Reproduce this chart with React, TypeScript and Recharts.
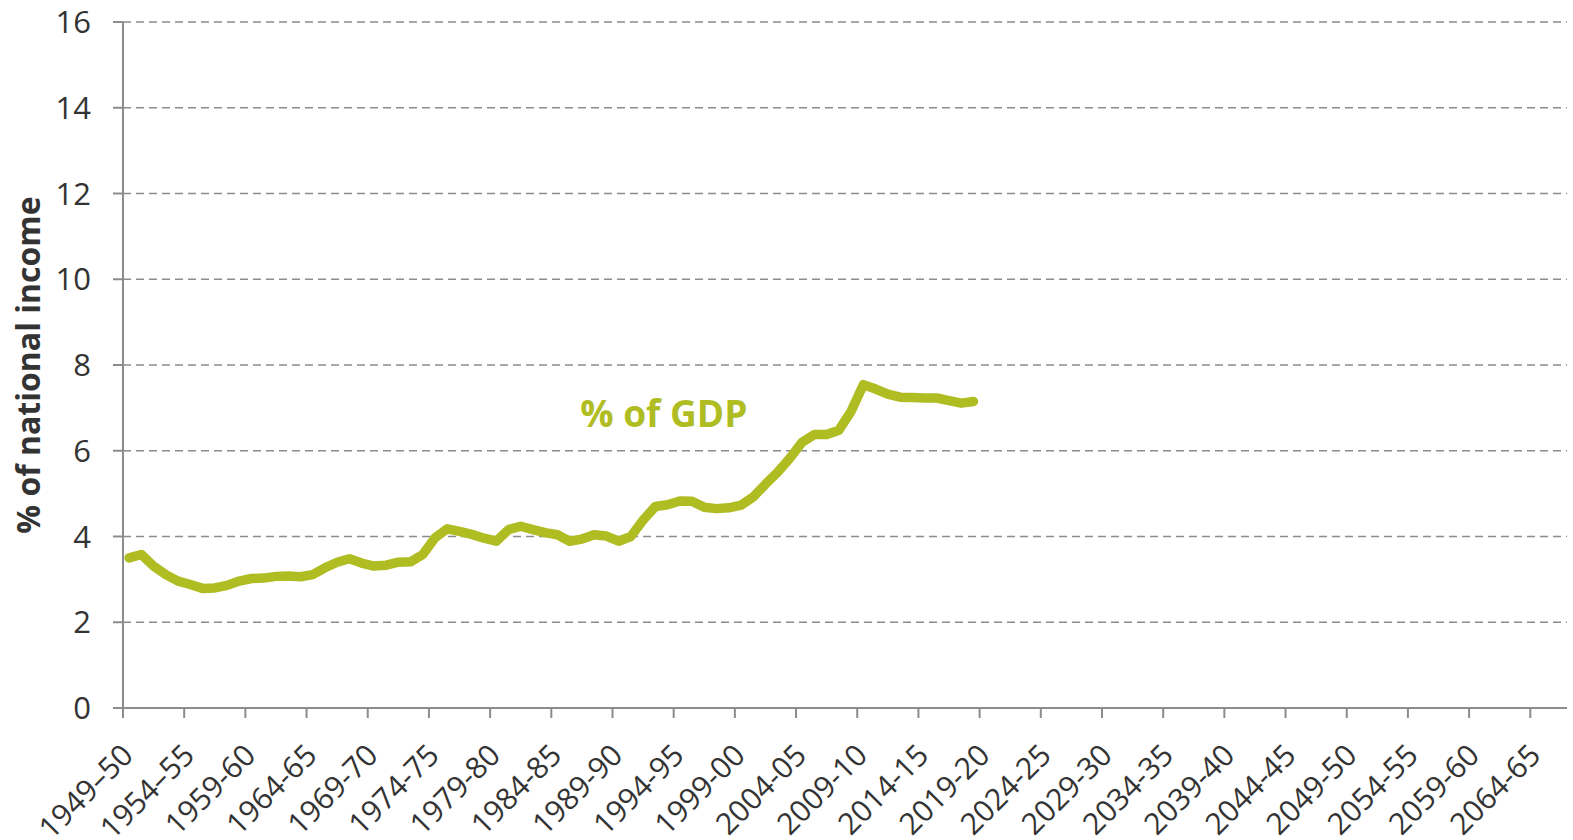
import { CartesianGrid, Line, LineChart, ReferenceDot, XAxis, YAxis } from "recharts";

// financial years 1949–50 .. 2066–67 on the category axis
const firstYear = 1949;
const categoryCount = 118;

// % of GDP, one value per financial year from 1949–50
const gdpShare = [
  3.5, 3.58, 3.31, 3.11, 2.96, 2.88, 2.79, 2.8, 2.86, 2.96,
  3.02, 3.03, 3.07, 3.08, 3.06, 3.11, 3.27, 3.4, 3.48, 3.38,
  3.31, 3.33, 3.4, 3.41, 3.58, 3.97, 4.18, 4.12, 4.05, 3.96,
  3.89, 4.16, 4.24, 4.16, 4.09, 4.04, 3.89, 3.94, 4.04, 4.01,
  3.89, 4.0, 4.38, 4.7, 4.74, 4.83, 4.82, 4.68, 4.65, 4.67,
  4.73, 4.92, 5.22, 5.5, 5.83, 6.2, 6.38, 6.38, 6.48, 6.92,
  7.54, 7.44, 7.32, 7.25, 7.24, 7.23, 7.23, 7.17, 7.11, 7.15,
];

const tickLabels = [
  "1949–50", "1954–55", "1959-60", "1964-65", "1969-70", "1974-75",
  "1979-80", "1984-85", "1989-90", "1994-95", "1999-00", "2004-05",
  "2009-10", "2014-15", "2019-20", "2024-25", "2029-30", "2034-35",
  "2039-40", "2044-45", "2049-50", "2054-55", "2059-60", "2064-65",
];

const yTicks = [0, 2, 4, 6, 8, 10, 12, 14, 16];

const seriesLabel = "% of GDP";
const axisTitle = "% of national income";

const font = "'Open Sans', sans-serif";
const green = "#afbd22";
const grey = "#8c8c8c";
const textColor = "#333333";

const data = gdpShare.map((value, i) => ({
  pos: i + 0.5,
  year: `${firstYear + i}`,
  gdp: value,
}));

function XTick({ x, y, payload }: { x?: number; y?: number; payload?: { value: number } }) {
  if (x === undefined || y === undefined || !payload) return null;
  const label = tickLabels[Math.round(payload.value / 5)] ?? "";
  const ax = x + 12;
  const ay = y + 37;
  return (
    <text
      x={ax}
      y={ay}
      transform={`rotate(-45, ${ax}, ${ay})`}
      textAnchor="end"
      fill={textColor}
      fontSize={30}
      fontFamily={font}
    >
      {label}
    </text>
  );
}

function YTitle({ viewBox }: { viewBox?: { x: number; y: number; width: number; height: number } }) {
  if (!viewBox) return null;
  const tx = viewBox.x + 40;
  const ty = viewBox.y + viewBox.height / 2;
  return (
    <text
      x={tx}
      y={ty}
      transform={`rotate(-90, ${tx}, ${ty})`}
      textAnchor="middle"
      fill={textColor}
      fontSize={32}
      fontWeight={700}
      fontFamily={font}
    >
      {axisTitle}
    </text>
  );
}

export default function App() {
  return (
    <div style={{ position: "absolute", left: 0, top: 0, background: "#fff" }}>
      <LineChart
        width={1573}
        height={840}
        data={data}
        margin={{ top: 22, right: 6, bottom: 0, left: 0 }}
      >
        <CartesianGrid
          vertical={false}
          stroke={grey}
          strokeWidth={1.5}
          strokeDasharray="8 5"
        />
        <XAxis
          type="number"
          dataKey="pos"
          domain={[0, categoryCount]}
          ticks={tickLabels.map((_, k) => k * 5)}
          interval={0}
          height={132}
          tickSize={10}
          axisLine={{ stroke: grey, strokeWidth: 2 }}
          tickLine={{ stroke: grey, strokeWidth: 2 }}
          tick={<XTick />}
        />
        <YAxis
          type="number"
          domain={[0, 16]}
          ticks={yTicks}
          interval={0}
          width={123}
          tickSize={10}
          tickMargin={22}
          axisLine={{ stroke: grey, strokeWidth: 2 }}
          tickLine={{ stroke: grey, strokeWidth: 2 }}
          tick={{ fill: textColor, fontSize: 31, fontFamily: font }}
          label={<YTitle />}
        />
        <Line
          type="linear"
          dataKey="gdp"
          stroke={green}
          strokeWidth={9.5}
          strokeLinecap="round"
          strokeLinejoin="round"
          dot={false}
          activeDot={false}
          isAnimationActive={false}
        />
        <ReferenceDot
          x={44.2}
          y={6.85}
          r={1}
          fill="none"
          stroke="none"
          label={{
            value: seriesLabel,
            position: "center",
            fill: green,
            fontSize: 37,
            fontWeight: 700,
            fontFamily: font,
          }}
        />
      </LineChart>
    </div>
  );
}
